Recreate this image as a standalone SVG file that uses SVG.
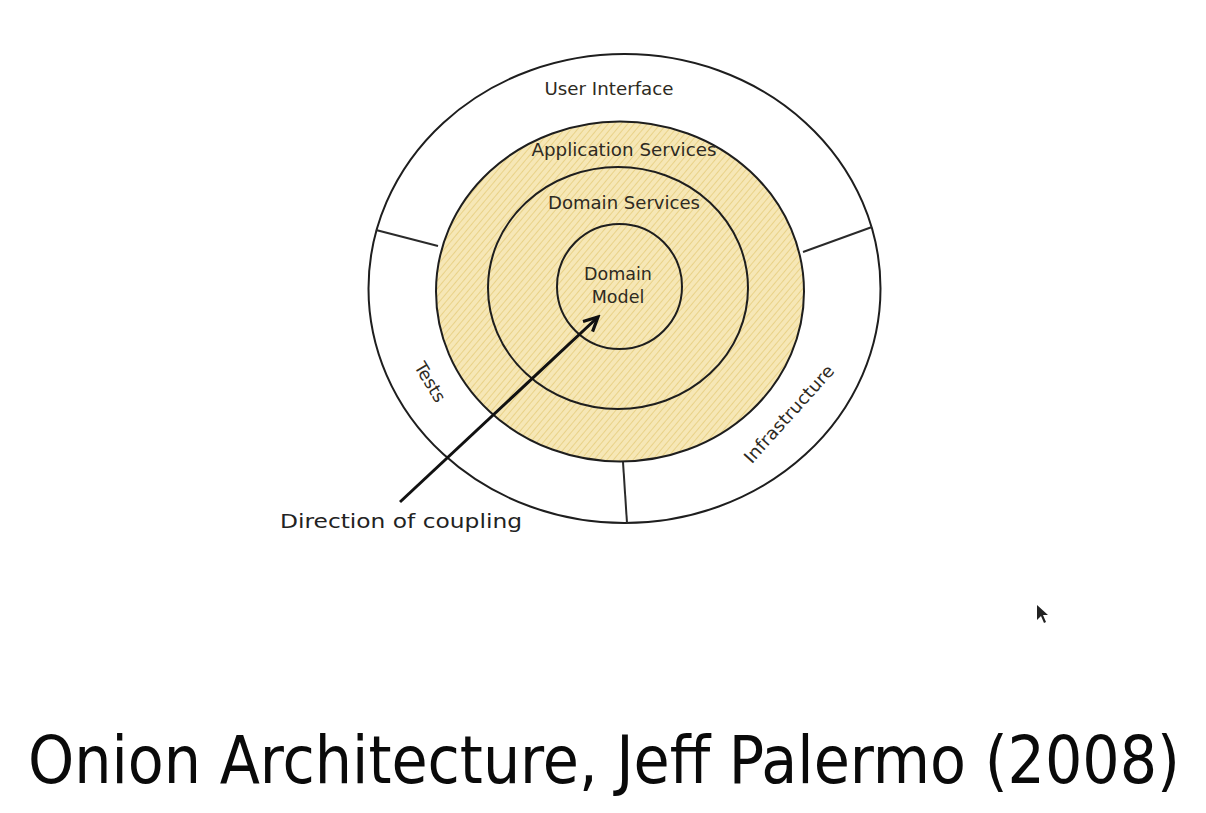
<svg xmlns="http://www.w3.org/2000/svg" width="1206" height="813" viewBox="0 0 1206 813">
<style>
  .ring { stroke: #1e1e1e; stroke-width: 2; }
  .div { stroke: #2a2a2a; stroke-width: 2; fill: none; }
  .lbl { font-family: "DejaVu Sans", "Liberation Sans", sans-serif; font-size: 17.5px; fill: #2e2a22; }
  .cap { font-family: "DejaVu Sans", "Liberation Sans", sans-serif; font-size: 19px; fill: #222; }
  .title { font-family: "DejaVu Sans", "Liberation Sans", sans-serif; font-stretch: condensed; font-size: 66px; fill: #0a0a0a; }
</style>
<defs>
  <pattern id="hatch" patternUnits="userSpaceOnUse" width="5" height="5" patternTransform="rotate(40)">
    <rect width="5" height="5" fill="#f6e7b6"/>
    <line x1="0" y1="0" x2="0" y2="5" stroke="#e6cd7c" stroke-width="1.6"/>
  </pattern>
  <marker id="arr" markerUnits="userSpaceOnUse" markerWidth="20" markerHeight="20" viewBox="0 0 20 20" refX="17" refY="10" orient="auto">
    <path d="M3,3 L17,10 L3,17" fill="none" stroke="#111" stroke-width="3.2" stroke-linejoin="miter"/>
  </marker>
</defs>
<rect width="1206" height="813" fill="#ffffff"/>

<g id="user-interface-layer">
  <ellipse cx="624.5" cy="288.5" rx="256" ry="234.5" style="fill:#ffffff" class="ring"/>
  <text class="lbl" x="609" y="95" text-anchor="middle" textLength="129" lengthAdjust="spacingAndGlyphs">User Interface</text>
</g>

<g id="application-services">
  <ellipse cx="620" cy="291.5" rx="184" ry="170" style="fill:url(#hatch)" class="ring"/>
  <text class="lbl" x="624" y="156" text-anchor="middle" textLength="185" lengthAdjust="spacingAndGlyphs">Application Services</text>
</g>

<g id="domain-services">
  <ellipse cx="618" cy="288" rx="130" ry="121" style="fill:none" class="ring"/>
  <text class="lbl" x="624" y="209" text-anchor="middle" textLength="152" lengthAdjust="spacingAndGlyphs">Domain Services</text>
</g>

<g id="domain-model">
  <ellipse cx="619.5" cy="286.5" rx="62.5" ry="62.5" style="fill:none" class="ring"/>
  <text class="lbl" x="618" y="280" text-anchor="middle">Domain</text>
  <text class="lbl" x="618" y="303" text-anchor="middle">Model</text>
</g>

<g id="tests">
  <text class="lbl" transform="translate(430,382) rotate(59)" x="0" y="6" text-anchor="middle">Tests</text>
</g>

<g id="infrastructure">
  <text class="lbl" transform="translate(789,414) rotate(-48)" x="0" y="6" text-anchor="middle" textLength="125" lengthAdjust="spacingAndGlyphs">Infrastructure</text>
</g>

<g id="connectors">
  <line class="div" x1="376" y1="230" x2="438" y2="246"/>
  <line class="div" x1="803" y1="252" x2="872" y2="227"/>
  <line class="div" x1="623" y1="462" x2="627" y2="523"/>
  <line x1="400" y1="502" x2="598" y2="317" stroke="#111" stroke-width="3" marker-end="url(#arr)"/>
</g>

<g id="direction-label">
  <text class="cap" x="280" y="528" textLength="242" lengthAdjust="spacingAndGlyphs">Direction of coupling</text>
</g>

<g id="title">
  <text class="title" x="28" y="783" textLength="1152" lengthAdjust="spacingAndGlyphs">Onion Architecture, Jeff Palermo (2008)</text>
</g>

<path d="M1037,605 L1037,620 L1041,616 L1044,623 L1046,622 L1043,615 L1048,615 Z" fill="#222"/>
</svg>
